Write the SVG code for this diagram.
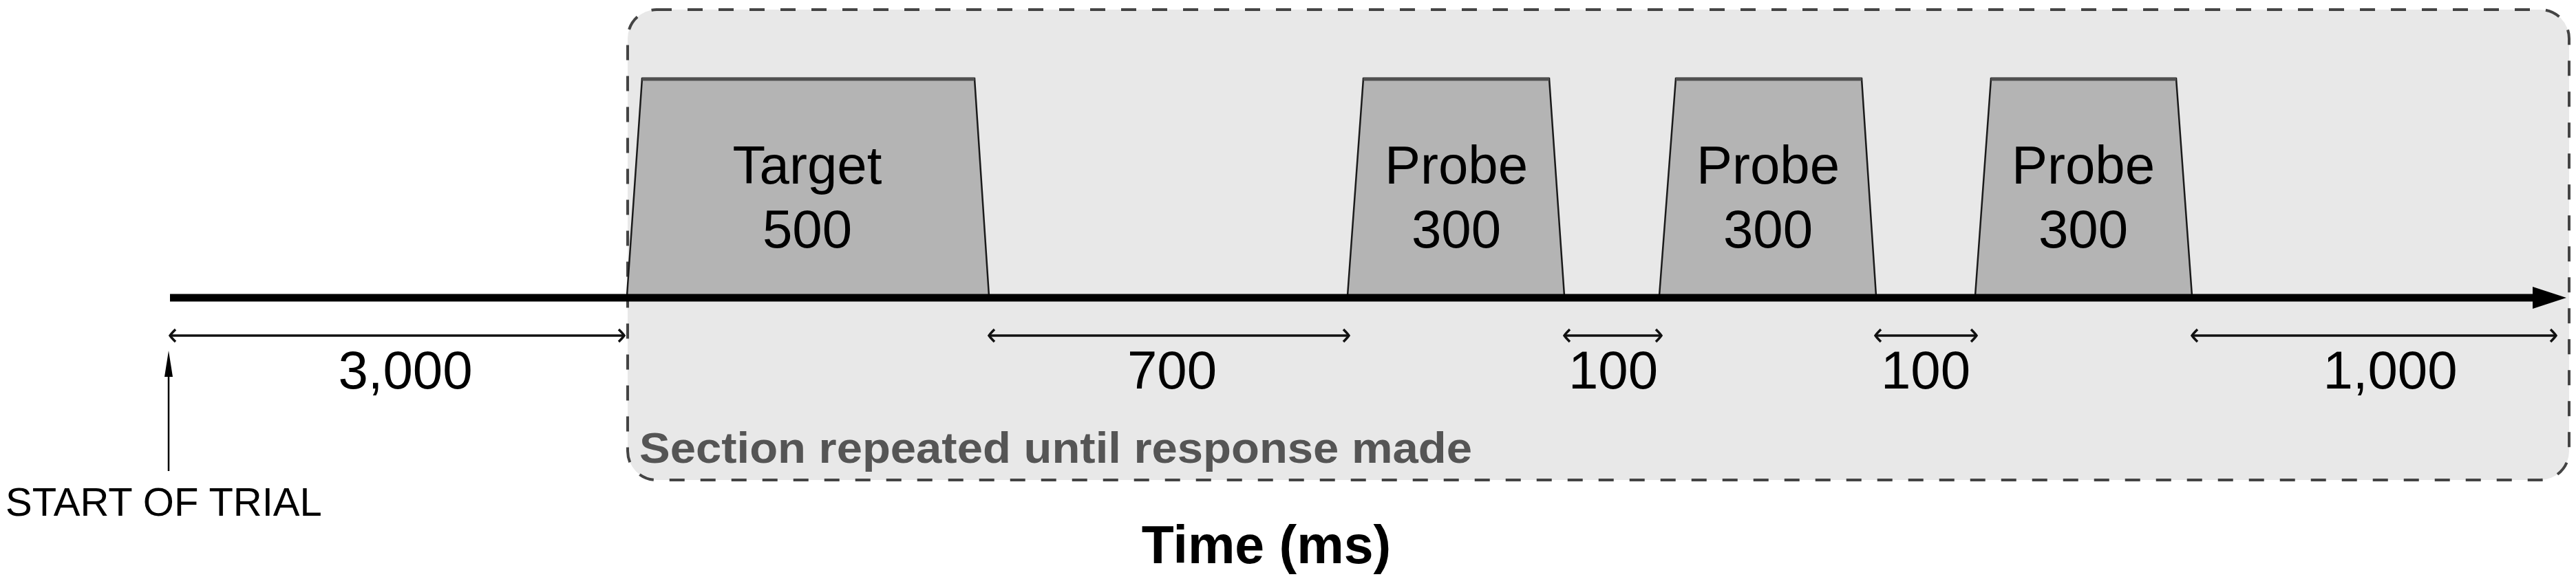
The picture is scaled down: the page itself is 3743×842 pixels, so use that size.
<svg xmlns="http://www.w3.org/2000/svg" width="3743" height="842" viewBox="0 0 3743 842">
<defs>
<style>
.lbl{font-family:"Liberation Sans",Arial,sans-serif;font-size:78px;fill:#000;text-anchor:middle}
.trap{fill:#b4b4b4;stroke:#1a1a1a;stroke-width:2.5}
.cap{stroke:#505050;stroke-width:5}
.dim{stroke:#111;stroke-width:3.5;fill:none}
</style>
<marker id="chev" markerWidth="14" markerHeight="22" refX="10" refY="11" orient="auto-start-reverse" markerUnits="userSpaceOnUse">
<path d="M2,2 Q8,8 10,11 Q8,14 2,20" fill="none" stroke="#111" stroke-width="3.5"/>
</marker>
<marker id="solid" markerWidth="16" markerHeight="36" refX="14" refY="18" orient="auto" markerUnits="userSpaceOnUse">
<path d="M0,4 L14,18 L0,32 Z" fill="#000"/>
</marker>
</defs>
<rect width="3743" height="842" fill="#fff"/>
<g id="repeat-section">
<rect x="912" y="14" width="2821" height="684" rx="42" ry="42" fill="#e8e8e8" stroke="#444" stroke-width="4" stroke-dasharray="22 23"/>
<text x="929" y="673" font-family="'Liberation Sans',Arial,sans-serif" font-weight="bold" font-size="63" fill="#555" textLength="1210" lengthAdjust="spacingAndGlyphs">Section repeated until response made</text>
</g>
<g id="target">
<polygon class="trap" points="933,114 1416,114 1437,430 911,430"/>
<line class="cap" x1="933" y1="115" x2="1416" y2="115"/>
<text class="lbl" x="1173" y="267">Target</text>
<text class="lbl" x="1173" y="360">500</text>
</g>
<g id="probe1">
<polygon class="trap" points="1981,114 2251,114 2273,430 1958,430"/>
<line class="cap" x1="1981" y1="115" x2="2251" y2="115"/>
<text class="lbl" x="2116" y="267">Probe</text>
<text class="lbl" x="2116" y="360">300</text>
</g>
<g id="probe2">
<polygon class="trap" points="2435,114 2705,114 2726,430 2411,430"/>
<line class="cap" x1="2435" y1="115" x2="2705" y2="115"/>
<text class="lbl" x="2569" y="267">Probe</text>
<text class="lbl" x="2569" y="360">300</text>
</g>
<g id="probe3">
<polygon class="trap" points="2893,114 3162,114 3185,430 2870,430"/>
<line class="cap" x1="2893" y1="115" x2="3162" y2="115"/>
<text class="lbl" x="3027" y="267">Probe</text>
<text class="lbl" x="3027" y="360">300</text>
</g>
<g id="connectors">
<line x1="247" y1="433" x2="3690" y2="433" stroke="#000" stroke-width="11"/>
<path d="M3680,417 L3729,433 L3680,449 Z" fill="#000"/>
<line class="dim" x1="247" y1="488" x2="907" y2="488" marker-start="url(#chev)" marker-end="url(#chev)"/>
<line class="dim" x1="1437" y1="488" x2="1960" y2="488" marker-start="url(#chev)" marker-end="url(#chev)"/>
<line class="dim" x1="2273" y1="488" x2="2414" y2="488" marker-start="url(#chev)" marker-end="url(#chev)"/>
<line class="dim" x1="2725" y1="488" x2="2872" y2="488" marker-start="url(#chev)" marker-end="url(#chev)"/>
<line class="dim" x1="3185" y1="488" x2="3714" y2="488" marker-start="url(#chev)" marker-end="url(#chev)"/>
<line x1="245" y1="685" x2="245" y2="545" stroke="#000" stroke-width="2.5"/>
<path d="M239,548 L245,510 L251,548 Z" fill="#000"/>
</g>
<g id="labels">
<text class="lbl" x="589" y="565">3,000</text>
<text class="lbl" x="1703" y="565">700</text>
<text class="lbl" x="2344" y="565">100</text>
<text class="lbl" x="2798" y="565">100</text>
<text class="lbl" x="3473" y="565">1,000</text>
<text x="8" y="750" font-family="'Liberation Sans',Arial,sans-serif" font-size="58" fill="#000">START OF TRIAL</text>
<text x="1840" y="819" font-family="'Liberation Sans',Arial,sans-serif" font-weight="bold" font-size="77" fill="#000" text-anchor="middle">Time (ms)</text>
</g>
</svg>
